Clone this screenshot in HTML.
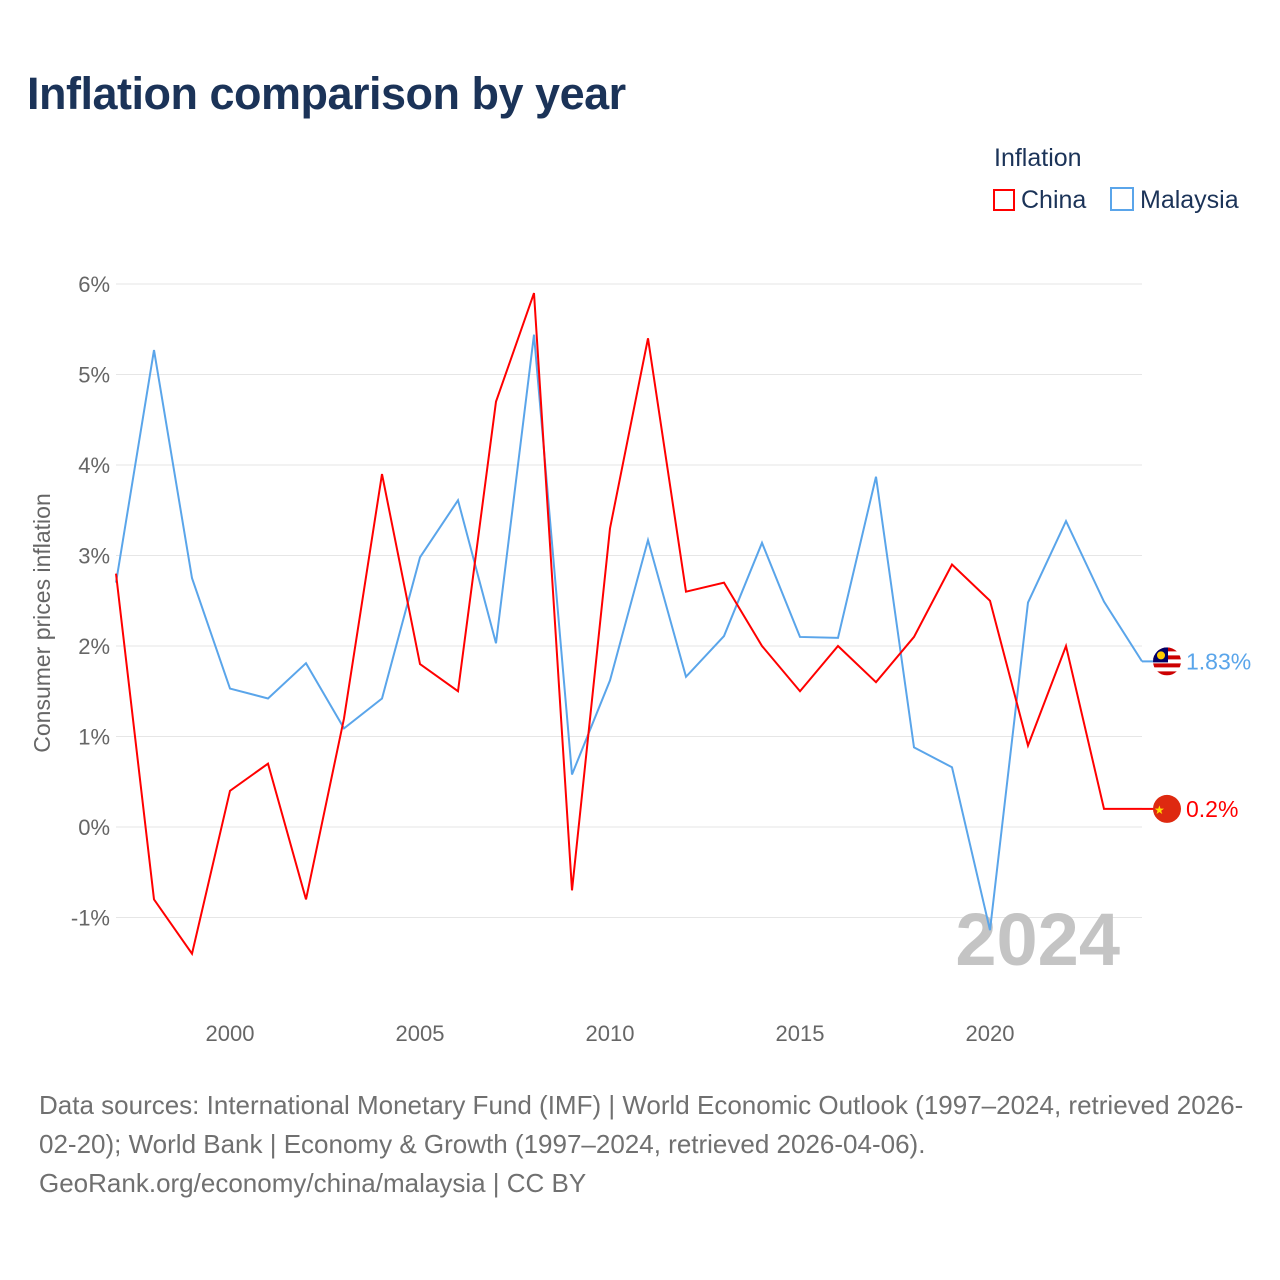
<!DOCTYPE html>
<html><head><meta charset="utf-8"><style>
body{margin:0;background:#fff;font-family:"Liberation Sans",sans-serif;}
#wrap{position:relative;width:1280px;height:1280px;overflow:hidden;}
.t{position:absolute;}
</style></head><body>
<div id="wrap">
<div class="t" style="left:27px;top:68px;font-size:45px;font-weight:bold;color:#1b3358;letter-spacing:-0.5px;">Inflation comparison by year</div>
<div class="t" style="left:994px;top:144px;font-size:25px;color:#1b3358;">Inflation</div>
<div class="t" style="left:993px;top:186px;font-size:25px;color:#1b3358;"><span style="display:inline-block;width:22px;height:22px;border:2px solid #f00;box-sizing:border-box;vertical-align:-3px;margin-right:6px;"></span>China</div>
<div class="t" style="left:1110px;top:186px;font-size:25px;color:#1b3358;"><span style="display:inline-block;width:24px;height:24px;border:2px solid #5aa5ea;box-sizing:border-box;vertical-align:-3px;margin-right:6px;"></span>Malaysia</div>
<svg id="chart" width="1280" height="1280" style="position:absolute;left:0;top:0;"></svg>
<div class="t" style="left:39px;top:1086px;font-size:26px;line-height:39px;color:#707070;width:1240px;white-space:nowrap;">Data sources: International Monetary Fund (IMF) | World Economic Outlook (1997–2024, retrieved 2026-<br>02-20); World Bank | Economy &amp; Growth (1997–2024, retrieved 2026-04-06).<br>GeoRank.org/economy/china/malaysia | CC BY</div>
</div>
<script>
const years=[1997,1998,1999,2000,2001,2002,2003,2004,2005,2006,2007,2008,2009,2010,2011,2012,2013,2014,2015,2016,2017,2018,2019,2020,2021,2022,2023,2024];
const china=[2.8,-0.8,-1.4,0.4,0.7,-0.8,1.2,3.9,1.8,1.5,4.7,5.9,-0.7,3.3,5.4,2.6,2.7,2.0,1.5,2.0,1.6,2.1,2.9,2.5,0.9,2.0,0.2,0.2];
const malaysia=[2.7,5.27,2.75,1.53,1.42,1.81,1.09,1.42,2.98,3.61,2.03,5.44,0.58,1.62,3.17,1.66,2.11,3.14,2.10,2.09,3.87,0.88,0.66,-1.14,2.48,3.38,2.49,1.83];
const yTicks=[-1,0,1,2,3,4,5,6];
const xTicks=[2000,2005,2010,2015,2020];
const NS="http://www.w3.org/2000/svg";
const svg=document.getElementById('chart');
const X=y=>116+(y-1997)*38;
const Y=v=>827-v*90.5;
function mk(tag,attrs,parent){const e=document.createElementNS(NS,tag);for(const k in attrs)e.setAttribute(k,attrs[k]);(parent||svg).appendChild(e);return e;}
yTicks.forEach(v=>{
 const g=mk('line',{x1:116,x2:1142,y1:Y(v),y2:Y(v),stroke:'#e6e6e6','stroke-width':1});
 
 
 const t=mk('text',{x:110,y:Y(v)+8,'text-anchor':'end','font-size':22,fill:'#666','font-family':'Liberation Sans, sans-serif'});
 t.textContent=v+'%';
 
 
});
xTicks.forEach(v=>{
 const t=mk('text',{x:X(v),y:1041,'text-anchor':'middle','font-size':22,fill:'#666','font-family':'Liberation Sans, sans-serif'});
 t.textContent=v;
 
 
});
const yt=mk('text',{x:0,y:0,transform:'translate(50,623) rotate(-90)','text-anchor':'middle','font-size':23,fill:'#666','font-family':'Liberation Sans, sans-serif'});
yt.textContent='Consumer prices inflation';


const wm=mk('text',{x:1120,y:965,'text-anchor':'end','font-size':74,'font-weight':'bold',fill:'#c4c4c4','font-family':'Liberation Sans, sans-serif'});
wm.textContent='2024';


const defs=mk('defs',{});const cp=mk('clipPath',{id:'cc'},defs);mk('circle',{cx:1167,cy:Y(malaysia[malaysia.length-1]),r:14},cp);
function series(vals,color,name){
 const p=mk('polyline',{points:vals.map((v,i)=>X(years[i])+','+Y(v)).join(' '),fill:'none',stroke:color,'stroke-width':2,'stroke-linejoin':'miter'});
 
 
 const last=vals[vals.length-1];
 mk('line',{x1:1142,x2:1155,y1:Y(last),y2:Y(last),stroke:color,'stroke-width':2});
 const c=mk('circle',{cx:1167,cy:Y(last),r:14,fill:name==='china'?'#de2910':'#fff'});
 
 
 if(name==='malaysia'){
  const g=mk('g',{'clip-path':'url(#cc)'});
  for(let k=0;k<7;k++){if(k%2===0)mk('rect',{x:1153,y:Y(last)-14+k*4,width:28,height:4,fill:'#cc0001'},g);}
  mk('rect',{x:1153,y:Y(last)-14,width:15,height:15,fill:'#010066'},g);
  mk('circle',{cx:1161,cy:Y(last)-6,r:4,fill:'#fc0'},g);
 } else {
  mk('text',{x:1154,y:Y(last)+5,'font-size':12,fill:'#ffde00'}).textContent='★';
 }
 const t=mk('text',{x:1186,y:Y(last)+8,'font-size':23,fill:color,'font-family':'Liberation Sans, sans-serif'});
 t.textContent=last+'%';
 
 
}
series(malaysia,'#5aa5ea','malaysia');
series(china,'#f00','china');
</script>
</body></html>
